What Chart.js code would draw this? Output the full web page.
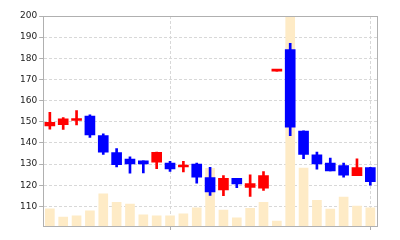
<!DOCTYPE html>
<html>
<head>
<meta charset="utf-8">
<script src="https://cdn.jsdelivr.net/npm/chart.js@4"></script>
<style>
  html, body { margin: 0; padding: 0; background: #fff; }
  #wrap { width: 400px; height: 240px; }
</style>
</head>
<body>
<div id="wrap"><canvas id="candleChart"></canvas></div>
<script>
const dates = [
  "2024-03-05", "2024-03-06", "2024-03-07", "2024-03-08", "2024-03-11",
  "2024-03-12", "2024-03-13", "2024-03-14", "2024-03-15", "2024-03-18",
  "2024-03-19", "2024-03-20", "2024-03-21", "2024-03-22", "2024-03-25",
  "2024-03-26", "2024-03-27", "2024-03-28", "2024-03-29", "2024-04-01",
  "2024-04-02", "2024-04-03", "2024-04-04", "2024-04-05", "2024-04-08"
];
const openPrices  = [148.0, 148.6, 150.6, 152.7, 143.4, 135.4, 132.4, 131.5, 130.9, 130.5, 128.6, 130.0, 123.6, 117.8, 123.3, 119.0, 118.6, 173.9, 184.1, 145.6, 134.3, 130.5, 129.3, 124.5, 128.3];
const highPrices  = [154.5, 152.0, 155.3, 153.3, 144.3, 137.3, 133.4, 131.5, 135.7, 131.3, 131.3, 130.4, 128.5, 124.5, 123.3, 124.9, 126.4, 174.2, 187.1, 145.7, 135.6, 132.8, 130.4, 132.5, 128.5];
const lowPrices   = [146.5, 146.4, 148.5, 142.6, 134.6, 128.6, 125.7, 125.8, 127.8, 126.5, 126.3, 121.0, 115.2, 115.0, 118.8, 114.7, 117.5, 173.9, 143.4, 132.5, 127.6, 126.7, 123.8, 124.5, 120.0];
const closePrices = [149.7, 151.4, 151.2, 143.8, 135.6, 129.7, 130.0, 130.0, 135.5, 127.7, 129.3, 123.8, 116.8, 123.3, 120.6, 120.7, 124.6, 174.2, 147.4, 134.6, 130.0, 126.8, 124.7, 128.3, 121.7];
const volumes     = [17300, 9000, 10300, 15300, 32300, 23700, 22000, 11300, 10300, 10300, 12300, 18300, 58000, 16000, 8300, 17700, 23700, 5000, 260000, 58300, 25700, 17000, 29000, 20000, 18300];
const yTicks = [110, 120, 130, 140, 150, 160, 170, 180, 190, 200];
const xGridAt = [9, 24];

const UP = "rgb(255,0,0)";
const DOWN = "rgb(0,0,255)";
const candleColors = dates.map((_, i) => closePrices[i] >= openPrices[i] ? UP : DOWN);

// frame round the plot area (top and right edges)
const frame = {
  id: "frame",
  afterDraw(chart) {
    const { ctx, chartArea: a } = chart;
    ctx.save();
    ctx.strokeStyle = "#b0b0b0";
    ctx.lineWidth = 1;
    ctx.strokeRect(Math.round(a.left) + 0.5, Math.round(a.top) + 0.5,
      Math.round(a.right - a.left), Math.round(a.bottom - a.top));
    ctx.restore();
  }
};

new Chart(document.getElementById("candleChart"), {
  type: "bar",
  data: {
    labels: dates,
    datasets: [
      {
        label: "Body",
        data: dates.map((_, i) => [openPrices[i], closePrices[i]]),
        backgroundColor: candleColors,
        barThickness: 10,
        minBarLength: 2,
        grouped: false,
        order: 1,
        yAxisID: "y"
      },
      {
        label: "Wick",
        data: dates.map((_, i) => [lowPrices[i], highPrices[i]]),
        backgroundColor: candleColors,
        barThickness: 2,
        grouped: false,
        order: 2,
        yAxisID: "y"
      },
      {
        label: "Volume",
        data: volumes,
        backgroundColor: "#feebc6",
        barThickness: 9,
        grouped: false,
        order: 3,
        clip: 0,
        yAxisID: "yv"
      }
    ]
  },
  options: {
    responsive: true,
    maintainAspectRatio: false,
    animation: false,
    layout: { padding: { left: 18, right: 23, top: 16, bottom: 10 } },
    plugins: { legend: { display: false }, tooltip: { enabled: false } },
    scales: {
      x: {
        offset: true,
        ticks: { display: false },
        grid: {
          offset: false,
          tickLength: 4,
          color: (c) => xGridAt.includes(c.index) ? "#d8d8d8" : "transparent",
          tickColor: (c) => xGridAt.includes(c.index) ? "#b0b0b0" : "transparent"
        },
        border: { color: "#b0b0b0", dash: [3, 2] }
      },
      y: {
        position: "left",
        min: 100.7,
        max: 200,
        afterBuildTicks: (scale) => { scale.ticks = yTicks.map(v => ({ value: v })); },
        ticks: {
          padding: 2,
          color: "#222",
          font: { family: "DejaVu Sans", size: 9 }
        },
        grid: { color: "#d8d8d8", tickLength: 4, tickColor: "#b0b0b0" },
        border: { color: "#b0b0b0", dash: [3, 2] }
      },
      yv: {
        display: false,
        min: 0,
        max: 211000
      }
    }
  },
  plugins: [frame]
});
</script>
</body>
</html>
